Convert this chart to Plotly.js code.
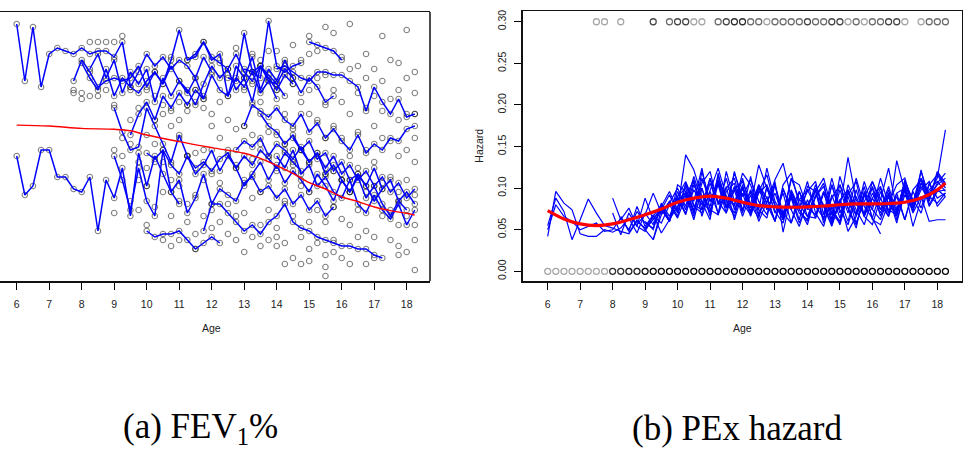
<!DOCTYPE html>
<html><head><meta charset="utf-8">
<script src="https://cdn.plot.ly/plotly-3.0.1.min.js"></script>
<style>html,body{margin:0;padding:0;background:#fff}#chart{width:972px;height:453px}</style>
</head><body><div id="chart"></div>
<script>
// ---------- Panel (a): FEV1% ----------
const fevStart = [6, 6, 7.75, 8, 8.25, 9, 9, 10, 11.75, 10, 14, 15, 11.25, 12.5, 13, 13, 12.75, 13.5, 14, 14.5, 9.5];
const fevTraj = [
  [122,103,121,101,112,114,113,112,114,112,113,113,111,116,101,106,112,108,111,107,110,108,104,111,106],
  [78,65,68,80,80,71,71,67,66,71,53,70,64,74,58,79,68,78,72,66,62],
  [103,110,106,101,103,104,103,104,108,101,106,102,110,120,110,111,116,110,112,98,108,104,111,100,107,103,110,104],
  [109,104,100,107,98,104,101,99,103,106,102,108,103,99,104,97,105,100,98,104,101,106,99,103,102,98],
  [107,112,104,110,99,106,102,107,96,104,98,103,100,95,102,108,104,107,100,104,96,108,103,97],
  [94,86,80,81,94,88,82,76,85,78,72,75,80,73,78,74,68,72,76,70,75,69,73,70,66,72,68,63,70,66,72,68,63,67],
  [78,70,60,74,63,58,80,66,70,59,64,72,62,67,65,63,69,71,66,68,64,67,62,65,60,63,58,61],
  [53,51,52,52,53,50,47,49,51,49],
  [53,62,62,59,56,53,55,52,56,58,62,56,54,53,51,50,49,48,48,47,47,45,44],
  [79,77,80,75,72,78,74,76,73,77,79,74,78,75,80,77,74,79,76,73],
  [107,108,106,104,103,106,106,105,105,103,101,93,101,96,92,97,91,92],
  [116,115,114,113,110],
  [110,112,116,111,109,107,112,106,103,108,104,100,105,102],
  [104,103,119,106,108,105,102,107,104,99,104,101,96,98],
  [107,106,104,123,108,106,108,109],
  [88,95,93,91,94,90,88,92,86,89,84,87,83,80,85,79,82,80,84,83,87,88],
  [80,83,81,84,78,82,80,77,81,76,79,74,78,72,75,70,73,68,71,66,69,64,67],
  [92,88,86,82,85,80,76,79,72,75,70,66,71,64,68,62,58,63,60],
  [78,74,80,72,75,68,71,66,64,70,62,59,65,60,57,62,55,60],
  [84,80,83,77,79,73,76,70,72,68,74,67,70,63,66,62],
  [85,92,96,90,98,94,99,95,100,97]
];
const fevExtraAges = [7.75,8,8.25,8.5,8.75,9,9.25,9.5,9.75,10,10.25,10.5,10.75,11,11.25,11.5,11.75,12,12.25,12.5,12.75,13,13.25,13.5,13.75,14,14.25,14.5,14.75,15,15.25,15.5,15.75,16,16.25,16.5,16.75,17,17.25,17.5,17.75,18,18.25];
const fevExtraVals = [
  [100,99],[97,99],[98,116],[116,98],[116,100],[116,95,80,59],[118,84,78],[100,90,82,63],[94,76,70,60],
  [100,85,74,68,55],[98,90,82,76,61],[95,92,76,66,50],[111,93,88,70,58,48],[96,90,84,68,63,50],
  [95,93,78,62,56],[100,96,79,65,52,47],[98,94,80,70,58],[92,88,72,60,54],[110,96,84,69,56],
  [105,90,80,62,52],[114,87,75,58,50],[100,88,70,59,46],[112,102,85,77,64,51],[110,96,82,66,55,48],
  [113,86,78,60,50],[113,100,85,73,54,51,48],[109,92,82,63,49,42],[115,102,87,75,58,44],
  [110,96,80,68,51,42],[118,112,100,92,66,56,47,43],[113,104,90,78,60,49],[121,105,95,84,72,56,45,41,38],
  [119,100,88,73,61,50,46],[111,96,84,70,57,44],[122,107,92,78,66,55,42],[108,99,86,74,60,51],
  [112,104,94,80,66,53,42],[107,98,88,76,64,51,44],[118,103,93,84,69,58],[110,97,83,71,60,50],
  [109,100,90,78,66,55,48,45],[120,104,92,80,70,58,46],[106,99,92,84,76,65,55,50,40]
];
const fevSmoothAge = [6,7,8,9,9.5,10,11,12,13,13.5,14,14.5,15,15.5,16,16.5,17,17.5,18,18.25];
const fevSmooth = [88.3,88.0,87.2,86.9,86.4,85.0,82.8,80.8,78.9,77.2,74.8,72.2,69.1,67.0,64.4,62.8,61.0,59.8,58.9,58.3];

// ---------- Panel (b): PEx hazard ----------
const hazStart = [6,6,6,8,8,8.25,8.5,8.75,9,9,9.25,9.25,9.5,9.5];
const hazTraj = [
  [.042,.096,.082,.074,.045,.042,.042,.050,.047, .052,.064,.046,.070,.056,.074,.062,.090, .100,.072,.112,.084,.104,.070,.098,.066, .092,.060,.084,.104,.070,.088,.058,.080, .098,.062,.104,.070,.090,.058,.084,.100, .066,.094,.072,.108,.080,.112,.090,.104,.112],
  [.055,.088,.072,.038,.062,.087,.070,.055,.052, .048,.045,.060,.052,.066,.058,.080,.064, .090,.110,.074,.106,.082,.100,.112,.074, .096,.066,.100,.080,.062,.094,.074,.056, .092,.080,.060,.098,.070,.112,.078,.064, .096,.074,.068,.108,.086,.070,.104,.116,.100],
  [.050,.080,.066,.060,.050,.054,.058,.048,.050, .064,.050,.072,.058,.052,.078,.060,.090, .070,.098,.080,.112,.068,.120,.084,.100, .072,.104,.088,.060,.098,.074,.054,.086, .064,.096,.078,.056,.092,.108,.066,.088, .070,.098,.062,.092,.076,.102,.084,.118,.104],
  [.070, .044,.070,.054,.048,.066,.080,.062,.086, .094,.066,.120,.084,.108,.076,.118,.090, .110,.084,.068,.104,.062,.096,.074,.060, .090,.102,.070,.058,.096,.068,.108,.078, .100,.070,.094,.062,.098,.110,.078,.096,.098],
  [.088, .062,.076,.054,.088,.062,.078,.096,.074, .140,.122,.090,.078,.114,.086,.070,.104, .070,.102,.080,.060,.100,.074,.096,.066, .064,.094,.068,.104,.076,.056,.090,.108, .080,.066,.133,.096,.072,.106,.086,.120,.106],
  [.066,.048,.078,.054,.068,.046,.062,.078, .092,.062,.100,.070,.110,.084,.066,.100, .080,.128,.100,.072,.058,.098,.076,.108, .070,.054,.092,.064,.098,.074,.056,.088, .102,.070,.090,.062,.096,.076,.106,.088,.094],
  [.046,.062,.050,.038,.074,.060,.088, .068,.104,.084,.062,.118,.078,.102,.072, .098,.074,.064,.108,.047,.092,.070,.062, .100,.078,.056,.084,.048,.066,.094,.074, .062,.090,.058,.098,.054,.086,.098,.108,.096],
  [.056,.068,.094,.070,.084,.066, .104,.078,.070,.098,.124,.090,.078,.112, .076,.104,.082,.110,.130,.088,.076,.096, .108,.068,.112,.076,.137,.086,.068,.094, .074,.102,.070,.110,.082,.120,.090,.082,.094],
  [.050,.062,.076,.060,.096, .074,.108,.066,.096,.070,.102,.062,.094, .066,.096,.116,.078,.070,.058,.096,.074, .104,.078,.054,.086,.060,.098,.066,.056, .088,.066,.094,.100,.070,.090,.060,.062,.062],
  [.060,.050,.082,.066,.090, .108,.084,.124,.074,.068,.096,.106,.070, .114,.068,.090,.060,.104,.118,.080,.066, .090,.106,.062,.114,.082,.068,.102,.062, .056,.082,.104,.112,.078,.106,.094,.112,.170],
  [.038,.068,.084,.072, .096,.070,.106,.120,.080,.112,.074,.100, .070,.094,.104,.080,.066,.090,.062,.102, .096,.058,.088,.104,.076,.052,.096,.064, .045],
  [.058,.074,.092,.070, .106,.080,.074,.112,.084,.070,.120,.082, .068,.100,.074,.094,.066,.110,.104,.076, .068,.096,.058,.086,.098,.066,.092,.074, .112,.080,.070,.102,.076,.098,.108,.078,.090],
  [.068,.082,.100, .078,.114,.084,.072,.108,.090,.080,.118, .104,.074,.124,.084,.068,.112,.086,.078, .096,.112,.074,.060,.104,.080,.070,.108, .086,.124,.074,.104,.082,.112,.088,.106,.118],
  [.080,.060,.104, .096,.074,.100,.066,.106,.076,.098,.108, .080,.064,.102,.070,.094,.058,.086,.098, .078,.064,.104,.074,.056,.090,.066,.102, .074,.092,.066,.100,.072,.122,.080,.098,.090]
];
const hazSmoothAge = [6,6.5,7,7.5,8,8.5,9,9.5,10,10.5,11,11.5,12,12.5,13,13.5,14,14.5,15,15.5,16,16.5,17,17.5,18,18.25];
const hazSmooth = [.073,.063,.057,.055,.057,.062,.068,.075,.083,.088,.0905,.088,.083,.079,.0775,.077,.0775,.0785,.080,.081,.081,.0815,.083,.088,.098,.106];
// event indicator rows: age and number of overlapping observations
const noEventAges = [6,6.25,6.5,6.75,7,7.25,7.5,7.75,8,8.25,8.5,8.75,9,9.25,9.5,9.75,10,10.25,10.5,10.75,11,11.25,11.5,11.75,12,12.25,12.5,12.75,13,13.25,13.5,13.75,14,14.25,14.5,14.75,15,15.25,15.5,15.75,16,16.25,16.5,16.75,17,17.25,17.5,17.75,18,18.25];
const noEventCounts = [1,1,1,1,1,1,1,1,4,4,5,5,7,8,8,9,9,10,10,10,10,10,10,10,10,10,10,10,10,10,10,10,10,10,10,10,10,10,10,10,10,10,10,10,10,10,10,10,10,10];
const eventAges = [7.5,7.75,8.25,9.25,9.75,10,10.25,10.5,10.75,11.25,11.5,11.75,12,12.25,12.5,12.75,13,13.25,13.5,13.75,14,14.25,14.5,14.75,15,15.25,15.5,15.75,16,16.25,16.5,16.75,17,17.5,17.75,18,18.25];
const eventCounts = [1,1,1,3,2,3,3,1,1,2,3,4,4,2,2,1,2,2,2,2,3,2,2,3,3,1,2,1,2,2,3,3,1,1,2,2,2];

const W = 972, H = 453;
const FONT = 'Liberation Sans, Arial, sans-serif';
const grid = (s, n) => Array.from({length: n}, (_, i) => s + 0.25 * i);
const BLUE = '#0000ff';
const traces = [];

// panel (a) circles: every observation
const cx = [], cy = [];
fevTraj.forEach((t, k) => { grid(fevStart[k], t.length).forEach((a, i) => { cx.push(a); cy.push(t[i]); }); });
fevExtraAges.forEach((a, k) => fevExtraVals[k].forEach(v => { cx.push(a); cy.push(v); }));
traces.push({x: cx, y: cy, xaxis: 'x', yaxis: 'y', mode: 'markers', type: 'scatter', hoverinfo: 'skip',
  marker: {symbol: 'circle-open', size: 5.5, color: 'rgba(0,0,0,0.5)', line: {width: 1.1}}});
fevTraj.forEach((t, k) => traces.push({x: grid(fevStart[k], t.length), y: t, xaxis: 'x', yaxis: 'y',
  mode: 'lines', type: 'scatter', line: {color: BLUE, width: 1.5}, hoverinfo: 'skip'}));
traces.push({x: fevSmoothAge, y: fevSmooth, xaxis: 'x', yaxis: 'y', mode: 'lines', type: 'scatter',
  line: {color: '#ff0000', width: 1.4, shape: 'spline'}});

// panel (b)
hazTraj.forEach((t, k) => traces.push({x: grid(hazStart[k], t.length), y: t, xaxis: 'x2', yaxis: 'y2',
  mode: 'lines', type: 'scatter', line: {color: BLUE, width: 1.2}, hoverinfo: 'skip'}));
traces.push({x: hazSmoothAge, y: hazSmooth, xaxis: 'x2', yaxis: 'y2', mode: 'lines', type: 'scatter',
  line: {color: '#ff0000', width: 3.2, shape: 'spline'}});
const shade = n => 'rgba(0,0,0,' + (1 - Math.pow(0.65, n)).toFixed(3) + ')';
traces.push({x: noEventAges, y: noEventAges.map(() => 0), xaxis: 'x2', yaxis: 'y2', mode: 'markers', type: 'scatter',
  marker: {symbol: 'circle-open', size: 6, color: noEventCounts.map(shade), line: {width: 1.3}}, cliponaxis: false});
traces.push({x: eventAges, y: eventAges.map(() => 0.3), xaxis: 'x2', yaxis: 'y2', mode: 'markers', type: 'scatter',
  marker: {symbol: 'circle-open', size: 6, color: eventCounts.map(shade), line: {width: 1.3}}, cliponaxis: false});

const tickFont = {family: FONT, size: 10.5, color: '#222'};
const xCommon = {tickvals: [6,7,8,9,10,11,12,13,14,15,16,17,18], ticks: 'outside', ticklen: 7, tickwidth: 1,
  tickcolor: '#000', showgrid: false, zeroline: false, tickfont: tickFont, ticklabelstandoff: 6};
const layout = {
  width: W, height: H, margin: {l: 0, r: 0, t: 0, b: 0}, showlegend: false,
  paper_bgcolor: '#fff', plot_bgcolor: '#fff',
  xaxis: Object.assign({}, xCommon, {domain: [0, 430 / W], range: [5.486, 18.717], anchor: 'y',
    showline: true, mirror: true, linecolor: '#111', linewidth: 1.5}),
  yaxis: {domain: [1 - 281 / H, 1 - 12 / H], range: [36.33, 126], anchor: 'x', showline: false,
    showticklabels: false, ticks: '', showgrid: false, zeroline: false},
  xaxis2: Object.assign({}, xCommon, {domain: [522.7 / W, 961.7 / W], range: [5.23, 18.751], anchor: 'y2',
    showline: true, mirror: true, linecolor: '#111', linewidth: 1.5}),
  yaxis2: {domain: [1 - 281.3 / H, 1 - 11 / H], range: [-0.012, 0.3129], anchor: 'x2',
    tickvals: [0, 0.05, 0.10, 0.15, 0.20, 0.25, 0.30], tickformat: '.2f', tickangle: -90,
    ticks: 'outside', ticklen: 7, tickwidth: 1, tickcolor: '#000', tickfont: tickFont, ticklabelstandoff: 4,
    showline: true, mirror: true, linecolor: '#111', linewidth: 1.5, showgrid: false, zeroline: false},
  shapes: [{type: 'line', xref: 'paper', yref: 'paper', x0: 430 / W, x1: 430 / W, y0: 1 - 281 / H, y1: 1 - 12 / H,
    line: {color: '#111', width: 1.5}}],
  annotations: [
    {text: 'Age', xref: 'paper', yref: 'paper', x: 211.7 / W, y: 1 - 327.7 / H, showarrow: false,
      xanchor: 'center', yanchor: 'middle', font: {family: FONT, size: 10.5, color: '#222'}},
    {text: 'Age', xref: 'paper', yref: 'paper', x: 742.3 / W, y: 1 - 327.7 / H, showarrow: false,
      xanchor: 'center', yanchor: 'middle', font: {family: FONT, size: 10.5, color: '#222'}},
    {text: 'Hazard', xref: 'paper', yref: 'paper', x: 479 / W, y: 1 - 145.7 / H, showarrow: false, textangle: -90,
      xanchor: 'center', yanchor: 'middle', font: {family: FONT, size: 10.5, color: '#222'}},
    {text: '(a) FEV<sub>1</sub>%', xref: 'paper', yref: 'paper', x: 200 / W, y: 1 - 428 / H, showarrow: false,
      xanchor: 'center', yanchor: 'middle', font: {family: 'Liberation Serif, serif', size: 35, color: '#000'}},
    {text: '(b) PEx hazard', xref: 'paper', yref: 'paper', x: 736.5 / W, y: 1 - 428 / H, showarrow: false,
      xanchor: 'center', yanchor: 'middle', font: {family: 'Liberation Serif, serif', size: 35, color: '#000'}}
  ]
};
Plotly.newPlot('chart', traces, layout, {staticPlot: true, displayModeBar: false});
</script></body></html>
